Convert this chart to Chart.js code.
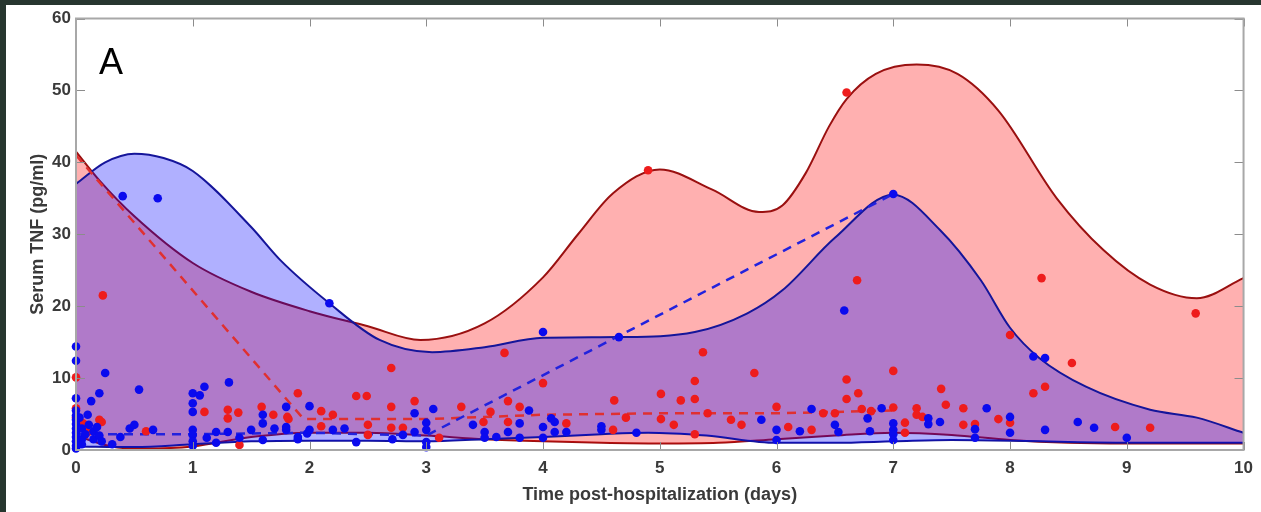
<!DOCTYPE html>
<html>
<head>
<meta charset="utf-8">
<script src="https://cdn.jsdelivr.net/npm/chart.js"></script>
<style>
  body { margin: 0; background: #27362f; width: 1261px; height: 512px; overflow: hidden; }
  #wrap { position: absolute; left: 6px; top: 5px; width: 1255px; height: 507px; background: #fff; }
  #panel { position: absolute; left: 99px; top: 44px; font: 36px "Liberation Sans", Arial, sans-serif; line-height: 36px; color: #000; }
</style>
</head>
<body>
<div id="wrap">
  <canvas id="myChart"></canvas>
</div>
<div id="panel">A</div>
<script>
// axis ticks
var xTicks = [0, 1, 2, 3, 4, 5, 6, 7, 8, 9, 10];
var yTicks = [0, 10, 20, 30, 40, 50, 60];

// red group: band edges and median line
var redUpX = [0, 0.2, 0.5, 1, 1.5, 2, 2.5, 2.95, 3.5, 4, 4.3, 4.6, 5.0, 5.45, 5.85, 6.05, 6.25, 6.45, 6.6, 6.85, 7.2, 7.55, 7.9, 8.4, 8.8, 9.2, 9.6, 10];
var redUpY = [41.5, 37.5, 32.5, 26, 22, 19.3, 17.2, 15.3, 17.6, 24, 30, 35.7, 39, 36.2, 33.1, 34, 38.5, 45, 48.8, 52.3, 53.6, 52.3, 47.2, 35, 27.8, 23, 21.1, 23.9];
var redLoX = [0, 0.3, 0.6, 1, 1.5, 2, 2.5, 3, 3.5, 4, 4.5, 5, 5.5, 6, 6.5, 7, 7.5, 8, 8.5, 9, 10];
var redLoY = [2, 0.5, 0.2, 0.5, 1.8, 2.4, 2.4, 2.0, 1.5, 1.2, 1.0, 0.9, 1.0, 1.5, 2.0, 2.4, 2.1, 1.4, 1.0, 0.9, 0.9];
var redMedX = [0, 1.95, 3, 4, 5, 6, 7];
var redMedY = [41, 4.3, 4.3, 4.9, 5.1, 5.1, 5.5];

// blue group
var blueUpX = [0, 0.25, 0.5, 0.75, 1, 1.5, 1.75, 2.17, 2.6, 3.05, 3.5, 4, 4.65, 5.3, 5.75, 6.05, 6.5, 7, 7.4, 7.75, 8, 8.25, 8.65, 9.2, 9.6, 10];
var blueUpY = [37, 40, 41.2, 40.6, 38.8, 31, 26.4, 20.4, 15.3, 13.6, 14.3, 15.6, 15.7, 16.4, 19, 22.2, 29.5, 35.5, 30.6, 23.6, 17, 12.8, 8.8, 5.6, 4.5, 2.4];
var blueLoX = [0, 0.5, 1, 1.5, 2, 2.5, 3, 3.5, 4, 4.5, 4.9, 5.4, 6, 6.5, 7, 7.5, 8, 8.5, 9, 10];
var blueLoY = [0.5, 0.4, 0.8, 1.2, 1.3, 1.3, 1.2, 1.5, 1.8, 2.2, 2.4, 2.0, 1.0, 1.0, 1.2, 1.4, 1.3, 1.1, 1.0, 1.0];
var blueMedX = [0, 1, 2, 3, 7];
var blueMedY = [2.2, 2.2, 2.4, 2.0, 35.6];

// measured samples
var redX = [0, 0, 0, 0.23, 0.06, 0.22, 0.2, 0.1, 0.6, 1.1, 1.3, 1.3, 1.39, 1.4, 1.59, 1.69, 1.81, 1.9, 1.82, 2.1, 2.2, 2.1, 2.4, 2.49, 2.5, 2.5, 2.7, 2.7, 2.7, 2.8, 2.9, 3.11, 3.3, 3.49, 3.55, 3.67, 3.7, 3.7, 3.8, 4.0, 4.2, 4.6, 4.61, 4.71, 4.9, 5.01, 5.01, 5.12, 5.18, 5.3, 5.3, 5.3, 5.37, 5.41, 5.61, 5.7, 5.81, 6.0, 6.1, 6.3, 6.4, 6.5, 6.6, 6.6, 6.6, 6.69, 6.7, 6.73, 6.81, 7.0, 7.0, 7.1, 7.1, 7.2, 7.2, 7.25, 7.41, 7.45, 7.6, 7.6, 7.7, 7.9, 8.0, 8.0, 8.2, 8.3, 8.27, 8.53, 8.9, 9.2, 9.59];
var redY = [10.1, 5.8, 4.5, 21.5, 3.7, 3.9, 4.2, 2.5, 2.6, 5.3, 5.6, 4.4, 5.2, 0.7, 6.0, 4.9, 4.6, 7.9, 4.3, 5.4, 4.9, 3.3, 7.5, 7.5, 3.5, 2.1, 11.4, 6.0, 3.1, 3.1, 6.8, 1.7, 6.0, 3.9, 5.3, 13.5, 6.8, 3.9, 6.0, 9.3, 3.7, 2.8, 6.9, 4.5, 38.9, 7.8, 4.3, 3.5, 6.9, 9.6, 7.1, 2.2, 13.6, 5.1, 4.2, 3.5, 10.7, 6.0, 3.2, 2.8, 5.1, 5.1, 9.8, 7.1, 49.7, 23.6, 7.9, 5.7, 5.4, 11.0, 5.9, 3.8, 2.4, 5.8, 4.9, 4.6, 8.5, 6.3, 5.8, 3.5, 3.6, 4.3, 3.8, 16.0, 7.9, 8.8, 23.9, 12.1, 3.2, 3.1, 19.0];

var blueX = [0, 0, 0, 0, 0, 0, 0, 0, 0, 0, 0, 0, 0, 0.03, 0.05, 0.05, 0.05, 0.08, 0.1, 0.11, 0.13, 0.15, 0.15, 0.18, 0.2, 0.2, 0.25, 0.22, 0.31, 0.38, 0.4, 0.46, 0.5, 0.54, 0.66, 0.7, 1.0, 1.0, 1.0, 1.0, 1.0, 1.0, 1.0, 1.06, 1.1, 1.12, 1.2, 1.2, 1.31, 1.3, 1.4, 1.5, 1.6, 1.6, 1.6, 1.7, 1.8, 1.8, 1.8, 1.9, 1.9, 1.98, 2.0, 2.0, 2.17, 2.2, 2.3, 2.4, 2.71, 2.8, 2.9, 2.9, 3.0, 3.0, 3.0, 3.0, 3.06, 3.4, 3.5, 3.5, 3.6, 3.7, 3.8, 3.8, 3.88, 4.0, 4.0, 4.0, 4.07, 4.1, 4.1, 4.2, 4.5, 4.5, 4.65, 4.8, 5.87, 6.0, 6.0, 6.2, 6.3, 6.5, 6.53, 6.58, 6.78, 6.8, 6.9, 7.0, 7.0, 7.0, 7.0, 7.0, 7.3, 7.3, 7.4, 7.7, 7.7, 7.8, 8.0, 8.0, 8.2, 8.3, 8.3, 8.58, 8.72, 9.0];
var blueY = [14.4, 12.4, 7.2, 5.5, 4.8, 4.2, 3.6, 3.0, 2.4, 1.8, 1.2, 0.6, 0.2, 4.5, 3.0, 1.5, 0.8, 2.2, 4.9, 3.5, 6.8, 2.6, 1.5, 3.2, 7.9, 2.0, 10.7, 1.2, 0.8, 1.8, 35.3, 3.0, 3.5, 8.4, 2.8, 35.0, 7.9, 6.5, 5.3, 2.8, 2.1, 1.2, 0.6, 7.6, 8.8, 1.7, 2.5, 1.0, 9.4, 2.5, 1.7, 2.8, 4.9, 3.7, 1.4, 3.0, 6.0, 2.8, 3.2, 1.5, 1.8, 2.3, 6.1, 2.8, 20.4, 2.8, 3.0, 1.1, 1.5, 2.1, 5.1, 2.5, 3.8, 2.8, 1.1, 0.4, 5.7, 3.5, 2.5, 1.7, 1.8, 2.5, 3.7, 1.7, 5.5, 16.4, 3.2, 1.7, 4.4, 3.9, 2.5, 2.5, 3.3, 2.8, 15.7, 2.4, 4.2, 2.8, 1.4, 2.6, 5.7, 3.5, 2.5, 19.4, 4.4, 2.6, 5.8, 35.6, 3.7, 2.8, 2.2, 1.4, 4.4, 3.6, 3.9, 2.9, 1.7, 5.8, 4.6, 2.4, 13.0, 12.8, 2.8, 3.9, 3.1, 1.7];

function pts(xs, ys) {
  var out = [];
  for (var i = 0; i < xs.length; i++) {
    out.push({x: xs[i], y: ys[i]});
  }
  return out;
}

// box round the plot with ticks pointing inwards
var frameTicks = {
  id: 'frameTicks',
  afterDatasetsDraw: function(chart) {
    var ctx = chart.ctx;
    var a = chart.chartArea;
    var xs = chart.scales.x, ys = chart.scales.y;
    ctx.save();
    ctx.strokeStyle = '#8c8c8c';
    ctx.lineWidth = 1;
    ctx.beginPath();
    xTicks.forEach(function(v) {
      var px = Math.round(xs.getPixelForValue(v)) + 0.5;
      ctx.moveTo(px, a.bottom); ctx.lineTo(px, a.bottom - 8);
      ctx.moveTo(px, a.top); ctx.lineTo(px, a.top + 8);
    });
    yTicks.forEach(function(v) {
      var py = Math.round(ys.getPixelForValue(v)) + 0.5;
      ctx.moveTo(a.left, py); ctx.lineTo(a.left + 9, py);
      ctx.moveTo(a.right, py); ctx.lineTo(a.right - 9, py);
    });
    ctx.stroke();
    ctx.strokeStyle = '#a8a8a8';
    ctx.lineWidth = 2;
    ctx.strokeRect(a.left, a.top, a.right - a.left, a.bottom - a.top);
    ctx.restore();
  }
};

var tickFont = {family: '"Liberation Sans", Arial, sans-serif', size: 17, weight: 'bold'};
var yTickFont = {family: '"Liberation Sans", Arial, sans-serif', size: 17, weight: 'bold', lineHeight: 1};
var titleFont = {family: '"Liberation Sans", Arial, sans-serif', size: 18, weight: 'bold'};

var ctx = document.getElementById('myChart');
var chart = new Chart(ctx, {
  type: 'line',
  data: {
    datasets: [
      {
        type: 'scatter', label: 'blue samples', data: pts(blueX, blueY),
        backgroundColor: '#0a0aee', borderWidth: 0, pointRadius: 4.3, clip: false, order: 0
      },
      {
        type: 'scatter', label: 'red samples', data: pts(redX, redY),
        backgroundColor: '#ee1c1c', borderWidth: 0, pointRadius: 4.3, clip: false, order: 1
      },
      {
        label: 'blue median', data: pts(blueMedX, blueMedY),
        borderColor: '#2222dd', borderWidth: 2.5, borderDash: [9, 7], pointRadius: 0, tension: 0, fill: false, order: 2
      },
      {
        label: 'red median', data: pts(redMedX, redMedY),
        borderColor: '#e03030', borderWidth: 2.5, borderDash: [9, 7], pointRadius: 0, tension: 0, fill: false, order: 2
      },
      {
        label: 'blue upper', data: pts(blueUpX, blueUpY),
        borderColor: '#15159a', borderWidth: 2, pointRadius: 0, cubicInterpolationMode: 'monotone',
        fill: {target: 5}, backgroundColor: 'rgba(0,0,255,0.31)', order: 3
      },
      {
        label: 'blue lower', data: pts(blueLoX, blueLoY),
        borderColor: '#15159a', borderWidth: 2, pointRadius: 0, cubicInterpolationMode: 'monotone',
        fill: false, order: 4
      },
      {
        label: 'red upper', data: pts(redUpX, redUpY),
        borderColor: '#9a1010', borderWidth: 2, pointRadius: 0, cubicInterpolationMode: 'monotone',
        fill: {target: 7}, backgroundColor: 'rgba(255,0,0,0.31)', order: 5
      },
      {
        label: 'red lower', data: pts(redLoX, redLoY),
        borderColor: '#9a1010', borderWidth: 2, pointRadius: 0, cubicInterpolationMode: 'monotone',
        fill: false, order: 6
      }
    ]
  },
  options: {
    responsive: true,
    maintainAspectRatio: false,
    animation: false,
    events: [],
    layout: {padding: {top: 13, right: 14, left: 0, bottom: 0}},
    plugins: {
      legend: {display: false},
      tooltip: {enabled: false}
    },
    scales: {
      x: {
        type: 'linear', min: 0, max: 10,
        grid: {display: false, drawTicks: false},
        border: {display: false},
        ticks: {stepSize: 1, color: '#3a3a3a', font: tickFont, padding: 8, maxRotation: 0},
        title: {display: true, text: 'Time post-hospitalization (days)', color: '#3a3a3a', font: titleFont, padding: {top: 0, bottom: 6}},
        afterFit: function(scale) { scale.height = 62; }
      },
      y: {
        type: 'linear', min: 0, max: 60,
        grid: {display: false, drawTicks: false},
        border: {display: false},
        ticks: {stepSize: 10, color: '#3a3a3a', font: yTickFont, padding: 5},
        title: {display: true, text: 'Serum TNF (pg/ml)', color: '#3a3a3a', font: titleFont, padding: {top: 21, bottom: 0}},
        afterFit: function(scale) { scale.width = 70; }
      }
    }
  },
  plugins: [frameTicks]
});
</script>
</body>
</html>
